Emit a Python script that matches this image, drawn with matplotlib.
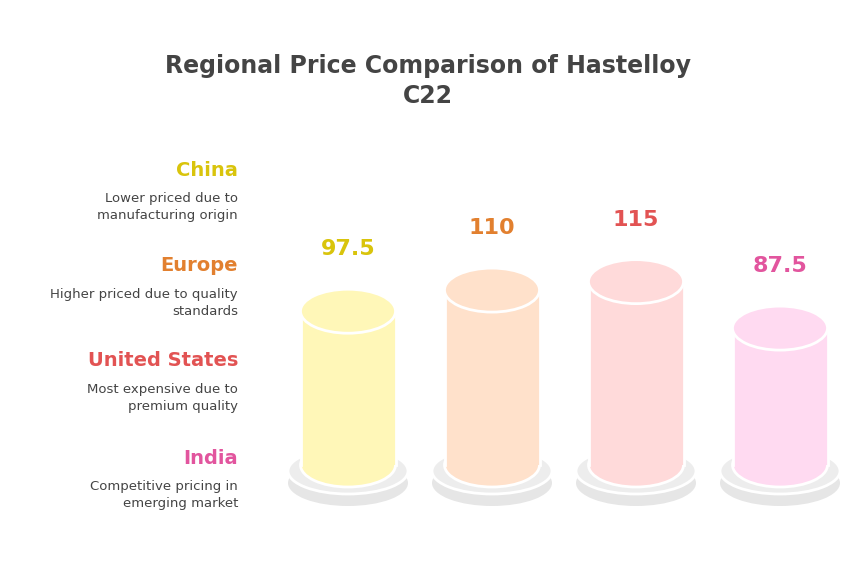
import matplotlib
matplotlib.use("Agg")
import matplotlib.pyplot as plt
from matplotlib.patches import Ellipse, Rectangle

regions = ["China", "Europe", "United States", "India"]
values = [97.5, 110, 115, 87.5]
labels = ["97.5", "110", "115", "87.5"]
descs = ["Lower priced due to\nmanufacturing origin",
         "Higher priced due to quality\nstandards",
         "Most expensive due to\npremium quality",
         "Competitive pricing in\nemerging market"]
text_colors = ["#D9C40C", "#E2802F", "#E25353", "#E2559E"]
fill_colors = ["#FFF7B8", "#FFE1CB", "#FFDADA", "#FFDAF1"]

W, H = 864, 588
fig = plt.figure(figsize=(W/100, H/100), dpi=100)
ax = fig.add_axes([0, 0, 1, 1])
scale = 1.69          # px per value unit
v0 = 6.5              # value at cylinder bottom
ybase_px = 465
ax.set_xlim(0, W)
ax.set_ylim(v0 - (H - ybase_px)/scale, v0 + ybase_px/scale)
ax.axis("off")

def px(p):  # pixel height -> value units
    return p/scale

xs = [348, 492, 636, 780]
bw = 95
eh = px(44)
for x, v, lab, fc, tc in zip(xs, values, labels, fill_colors, text_colors):
    # gray base
    ax.add_patch(Ellipse((x, v0 - px(18)), 120, px(46), fc="#E6E6E6", ec="none", zorder=1))
    ax.add_patch(Ellipse((x, v0 - px(6)), 120, px(46), fc="#EDEDED", ec="white", lw=2, zorder=2))
    # cylinder
    ax.add_patch(Ellipse((x, v0), bw, eh, fc=fc, ec="white", lw=2, zorder=3))
    ax.add_patch(Rectangle((x - bw/2, v0), bw, v - v0, fc=fc, ec="none", zorder=4))
    ax.plot([x - bw/2, x - bw/2], [v0, v], color="white", lw=2, zorder=5)
    ax.plot([x + bw/2, x + bw/2], [v0, v], color="white", lw=2, zorder=5)
    ax.add_patch(Ellipse((x, v), bw, eh, fc=fc, ec="white", lw=2, zorder=6))
    ax.text(x, v + px(62), lab, ha="center", va="center", fontsize=16,
            fontweight="bold", color=tc, zorder=7)

def fy(p):
    return 1 - p/H

name_y = [170, 266, 361, 458]
for r, d, c, ny in zip(regions, descs, text_colors, name_y):
    fig.text(238/W, fy(ny), r, ha="right", va="center", fontsize=14,
             fontweight="bold", color=c)
    fig.text(238/W, fy(ny + 37), d, ha="right", va="center", fontsize=9.5,
             color="#444444", linespacing=1.4)

fig.text(428/W, fy(81), "Regional Price Comparison of Hastelloy\nC22", ha="center",
         va="center", fontsize=17, fontweight="bold", color="#444444", linespacing=1.3)

fig.savefig("out.png", dpi=100, facecolor="white")
